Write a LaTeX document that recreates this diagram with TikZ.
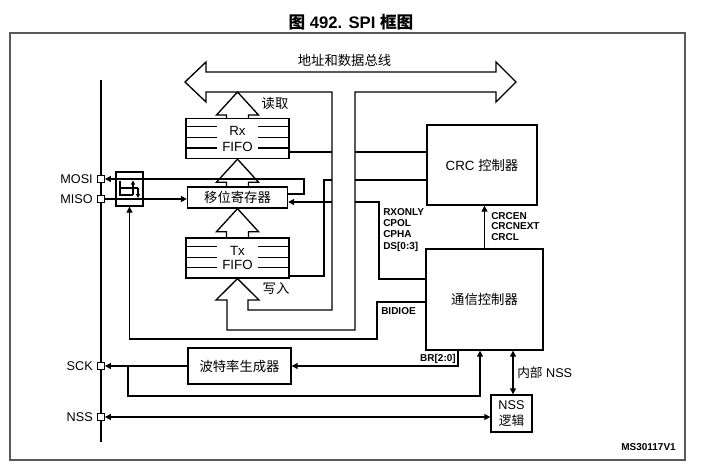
\documentclass[tikz,border=0pt]{standalone}
\usepackage{fontspec}
\setmainfont{Liberation Sans}
\newfontfamily\zhfont{Noto Sans CJK SC}
\usetikzlibrary{arrows.meta}
\newcommand{\zh}[1]{{\zhfont #1}}
\newcommand{\hollowup}[2]{%
  \draw[hol] ([xshift=-8.25pt]#1) -- ([xshift=-8.25pt,yshift=-17.25pt]#2)
    -- ([xshift=-15.75pt,yshift=-17.25pt]#2) -- (#2)
    -- ([xshift=15.75pt,yshift=-17.25pt]#2) -- ([xshift=8.25pt,yshift=-17.25pt]#2)
    -- ([xshift=8.25pt]#1);}

\begin{document}
\begin{tikzpicture}[x=0.75pt,y=-0.75pt]
\tikzstyle{every node}+=[inner sep=0pt]
\tikzstyle{sig}=[black,line width=1pt]
\tikzstyle{sigarrow}=[sig,-{Triangle[length=4.5pt,width=4.5pt]}]
\tikzstyle{sigboth}=[sig,{Triangle[length=4.5pt,width=4.5pt]}-{Triangle[length=4.5pt,width=4.5pt]}]
\tikzstyle{hol}=[black,line width=1pt,line join=miter]
\tikzstyle{blk}=[draw,black,line width=1pt,fill=white]
\tikzstyle{pinbox}=[draw,black,line width=0.7pt,fill=white,minimum size=5.25pt]
\tikzstyle{pinname}=[anchor=east,font=\fontsize{9.5}{11}\selectfont]
\tikzstyle{zhtext}=[font=\zhfont\fontsize{10}{12}\selectfont]
\tikzstyle{small}=[font=\bfseries\fontsize{7.5}{8.5}\selectfont,align=left]
\tikzstyle{mini}=[line width=0.8pt,-{Triangle[length=3pt,width=3pt]}]

\useasboundingbox (0,0) rectangle (702,474);
\node[font=\bfseries\fontsize{12.5}{14}\selectfont] (title) at (351,22) {\zh{图} 492. SPI \zh{框图}};
\draw[black!65,line width=1pt] (10,33) rectangle (685,460);

\coordinate (ptop) at (101,80);
\coordinate (pbot) at (101,442);
\draw[sig] (ptop) -- (pbot);

\node[pinbox] (mosi) at (101,179) {};
\node[pinbox] (miso) at (101,199) {};
\node[pinbox] (sck) at (101,366) {};
\node[pinbox] (nss) at (101,417) {};
\node[pinname] (mositxt) at (93,179) {MOSI};
\node[pinname] (misotxt) at (93,199) {MISO};
\node[pinname] (scktxt) at (93,366) {SCK};
\node[pinname] (nsstxt) at (93,417) {NSS};

\node[blk,minimum width=77.25pt,minimum height=30pt,align=center,font=\fontsize{10}{12}\selectfont] (rx) at (237.5,138.5) {Rx\\FIFO};
\node[blk,minimum width=77.25pt,minimum height=30pt,align=center,font=\fontsize{10}{11}\selectfont] (tx) at (237.5,258) {Tx\\FIFO};
\node[blk,zhtext,minimum width=75pt,minimum height=15.75pt] (shift) at (237.5,197.5) {移位寄存器};
\node[blk,minimum width=82.5pt,minimum height=60pt,font=\fontsize{10}{12}\selectfont] (crc) at (482,165) {CRC \zh{控制器}};
\node[blk,zhtext,minimum width=87.75pt,minimum height=75.75pt] (comm) at (484.5,299.5) {通信控制器};
\node[blk,zhtext,minimum width=77.25pt,minimum height=27pt] (baud) at (239.5,366) {波特率生成器};
\node[blk,minimum width=30.75pt,minimum height=27.75pt,align=center,font=\fontsize{9.5}{12}\selectfont] (nsslog) at (511.5,413.5) {NSS\\\zh{逻辑}};
\node[draw,black,line width=1pt,minimum width=20.25pt,minimum height=25.5pt] (sw) at (129.5,189) {};

\foreach \f in {rx,tx}{
  \foreach \dy in {6.75,15,22.5}{
    \draw[sig] ([yshift=-\dy pt]\f.north west) -- ++(24pt,0);
    \draw[sig] ([yshift=-\dy pt]\f.north east) -- ++(-24pt,0);
  }
}

\draw[hol] (185,82) -- (206,62) -- (206,72) -- (496,72) -- (496,62) -- (516,82) -- (496,102)
  -- (496,92) -- (355,92) -- (355,330) -- (227,330) -- (227,300) -- (216,300) -- (tx.south)
  -- (259,300) -- (248,300) -- (248,310) -- (332,310) -- (332,92) -- (206,92) -- (206,102) -- cycle;
\coordinate (busL) at (332,92);
\coordinate (busR) at (355,92);
\coordinate (rdtip) at (rx.north |- busL);
\hollowup{rx.north}{rdtip}
\hollowup{shift.north}{rx.south}
\hollowup{tx.north}{shift.south}

\node[zhtext] (buslbl) at (344.5,60) {地址和数据总线};
\node[zhtext] (rdlbl) at (275,103) {读取};
\node[zhtext] (wrlbl) at (276,289) {写入};

\draw[sig] ([yshift=-10.125pt]rx.east) coordinate (ro) -- (ro -| busL);
\draw[sig] (ro -| busR) -- (ro -| crc.west);
\coordinate (tv) at (324,180);
\draw[sig] ([yshift=-13.5pt]tx.east) -| (tv) -- (tv -| busL);
\draw[sig] (tv -| busR) -- (tv -| crc.west);

\coordinate (mo) at (304,194);
\draw[sigarrow] (shift.east |- mo) -- (mo) |- (mosi.east);
\draw[sigarrow] (miso.east) -- (shift.west |- miso);

\draw[line width=0.8pt] (120,181) -- (120,195) -- (133,195);
\draw[mini] (133,195) -- (133,180.5);
\draw[line width=0.8pt] (120,188) -- (138,188);
\draw[mini] (138,188) -- (138,198);

\coordinate (cf1) at (379,202);
\coordinate (cf2) at (379,279);
\draw[sig] (comm.west |- cf2) -- (cf2) -- (cf1) -- (cf1 -| busR);
\draw[sigarrow] (cf1 -| busL) -- (cf1 -| shift.east);
\node[small,anchor=north west] (cfglbl) at (383,208) {RXONLY\\CPOL\\CPHA\\DS[0:3]};

\coordinate (bd1) at (377,302);
\coordinate (bd2) at (377,339);
\draw[sigarrow] (comm.west |- bd1) -- (bd1) -- (bd2) -| (sw.south);
\node[small,anchor=north west] (bidlbl) at (381,307) {BIDIOE};

\draw[sigarrow] (comm.north) -- (comm.north |- crc.south);
\node[small,anchor=north west,font=\bfseries\fontsize{7.5}{8}\selectfont] (crclbl) at (491,212) {CRCEN\\CRCNEXT\\CRCL};

\draw[sigarrow] (baud.west) -- (sck.east);
\coordinate (sk1) at (128,396);
\coordinate (sk2) at (480,396);
\draw[sigarrow] (sk1 |- sck) -- (sk1) -- (sk2) -- (sk2 |- comm.south);

\coordinate (br) at (458,366);
\draw[sigarrow] (br |- comm.south) -- (br) -- (baud.east);
\node[small,anchor=south east] (brlbl) at (456,364) {BR[2:0]};

\draw[sigboth] (nss.east) -- (nss.east -| nsslog.west);
\coordinate (inss) at (513,373);
\draw[sigboth] (inss |- comm.south) -- (inss |- nsslog.north);
\node[anchor=west,font=\fontsize{9.5}{11}\selectfont] (inlbl) at (517,373) {\zh{内部} NSS};

\node[small,anchor=east] (mslbl) at (676,447) {MS30117V1};
\end{tikzpicture}
\end{document}
